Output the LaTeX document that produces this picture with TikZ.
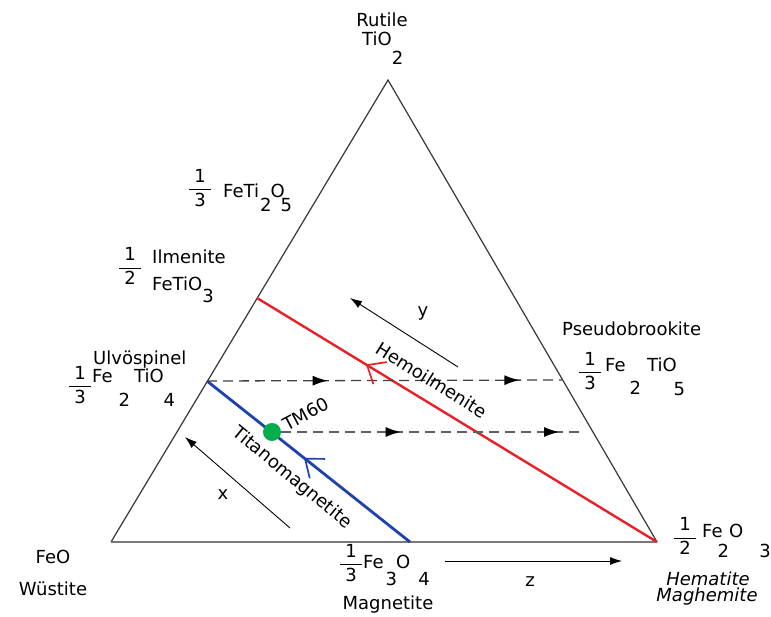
\documentclass[tikz,border=0pt]{standalone}
\usepackage{fontspec}
\usepackage{amsmath}
\setmainfont{DejaVu Sans}
\usetikzlibrary{arrows.meta,calc,decorations.markings}
\newcommand\lowd[2][22pt]{\raisebox{-#1}{#2}}
\newcommand\frc[2]{$\genfrac{}{}{0.9pt}{0}{\makebox[22pt]{#1}}{\makebox[22pt]{#2}}$}
\definecolor{hemred}{RGB}{232,32,40}
\definecolor{tmblue}{RGB}{30,65,170}
\definecolor{tmgreen}{RGB}{0,175,75}
\definecolor{edgegray}{RGB}{55,55,55}
\definecolor{basegray}{RGB}{120,120,120}
\definecolor{dashgray}{RGB}{95,95,95}
\begin{document}
\begin{tikzpicture}[x=1pt,y=-1pt,
  lbl/.style={inner sep=0pt,font=\fontsize{18}{20}\selectfont},
  ilbl/.style={lbl,font=\fontsize{18}{20}\selectfont\itshape},
  triedge/.style={draw=edgegray,line width=1.2pt},
  dashln/.style={dash pattern=on 10pt off 6pt,line width=1.3pt},
  arr/.style={-{Latex[length=12pt,width=8pt]},line width=0.9pt},
  chev/.style={line width=1.7pt,line join=miter},
  dtip/.style={decoration={markings,
     mark=at position #1 with {\arrow{Latex[length=15pt,width=10pt,color=black]}}},postaction={decorate}}]
\useasboundingbox (0,0) rectangle (771,617);
% triangle
\coordinate (L) at (111,542);
\coordinate (R) at (657,542);
\coordinate (T) at (388,80);
\draw[triedge] (L) -- (T) -- (R);
\draw[draw=basegray,line width=1.8pt] (L) -- (R);
% solid-solution lines
\coordinate (hs) at (257,298);
\coordinate (us) at (207,381);
\coordinate (mg) at (410,542);
\coordinate (pe) at (562,380);
\coordinate (le) at (580,432);
\draw[hemred,line width=2.4pt] (hs) -- (R);
\draw[tmblue,line width=2.8pt] (us) -- (mg);
% dashed oxidation lines
\draw[dashln,draw=black!75,dtip=0.34] (us) -- (pe);
\draw[dashln,draw=none,dtip=0.88] (us) -- (pe);
\node[circle,fill=tmgreen,minimum size=18pt,inner sep=0pt] (gd) at (272,432) {};
\draw[dashln,draw=dashgray,dtip=0.40] (gd) -- (le);
\draw[dashln,draw=none,dtip=0.93] (gd) -- (le);
% chevrons
\coordinate (rc) at ($(hs)!0.275!(R)$);
\draw[hemred,chev] ($(rc)!20pt!40:(R)$) -- (rc) -- ($(rc)!20pt!-40:(R)$);
\coordinate (bc) at ($(us)!0.483!(mg)$);
\draw[tmblue,chev] ($(bc)!20pt!38:(mg)$) -- (bc) -- ($(bc)!20pt!-38:(mg)$);
% axis arrows
\coordinate (ya) at (458,367); \coordinate (yb) at (350,298);
\coordinate (xa) at (290,528); \coordinate (xb) at (185,437);
\coordinate (za) at (445,561); \coordinate (zb) at (622,561);
\draw[arr] (ya) -- (yb);
\draw[arr] (xa) -- (xb);
\draw[arr] (za) -- (zb);
\node[lbl] (ylab) at (423,313) {y};
\node[lbl] (xlab) at (223,495) {x};
\node[lbl] (zlab) at (530,582) {z};
% labels
\node[lbl,anchor=base] (rut) at (382,27) {Rutile};
\node[lbl,anchor=base west] (tio2) at (362,46) {TiO\lowd[19pt]{2}};
\node[lbl] (f1) at (200,188) {\frc{1}{3}};
\node[lbl,anchor=base west] (feti2o5) at (223,198) {FeTi\kern1pt\lowd[14pt]{2}\kern-1pt O\kern-4pt\lowd[14pt]{5}};
\node[lbl] (f2) at (130,266) {\frc{1}{2}};
\node[lbl,anchor=base west] (ilm) at (152,264) {Ilmenite};
\node[lbl,anchor=base west] (fetio3) at (152,291) {FeTiO\lowd[12pt]{3}};
\node[lbl,anchor=base west] (ulv) at (93,365) {Ulvöspinel};
\node[lbl] (f3) at (80,385) {\frc{1}{3}};
\node[lbl,anchor=base west] (fe2tio4) at (92,383) {Fe\kern6pt\lowd[24pt]{2}\kern4pt TiO\lowd[24pt]{4}};
\node[lbl,anchor=base west] (pseudo) at (562,336) {Pseudobrookite};
\node[lbl] (f4) at (590,371) {\frc{1}{3}};
\node[lbl,anchor=base west] (fe2tio5) at (605,372) {Fe\kern4pt\lowd[23pt]{2}\kern6pt TiO\kern-3pt\lowd[24pt]{5}};
\node[lbl,anchor=base] (feo) at (53,563) {FeO};
\node[lbl,anchor=base] (wus) at (53,595) {Wüstite};
\node[lbl] (f5) at (351,563) {\frc{1}{3}};
\node[lbl,anchor=base west] (fe3o4) at (363,568) {Fe\kern2pt\lowd[17pt]{3}\kern-1pt O\kern8pt\lowd[17pt]{4}};
\node[lbl,anchor=base] (magn) at (388,609) {Magnetite};
\node[lbl] (f6) at (685,536) {\frc{1}{2}};
\node[lbl,anchor=base west] (fe2o3) at (702,537) {Fe\kern-5pt\lowd[20pt]{2}\kern0pt O\kern16pt\lowd[20pt]{3}};
\node[ilbl,anchor=base] (hem) at (708,585) {Hematite};
\node[ilbl,anchor=base] (magh) at (707,601) {Maghemite};
% line labels
\node[lbl,rotate=-32] (hemo) at (432,380) {Hemoilmenite};
\node[lbl,rotate=-39.5] (titano) at (292,478) {Titanomagnetite};
\node[lbl,rotate=28] (tm60) at (306,414) {TM60};
\end{tikzpicture}
\end{document}
